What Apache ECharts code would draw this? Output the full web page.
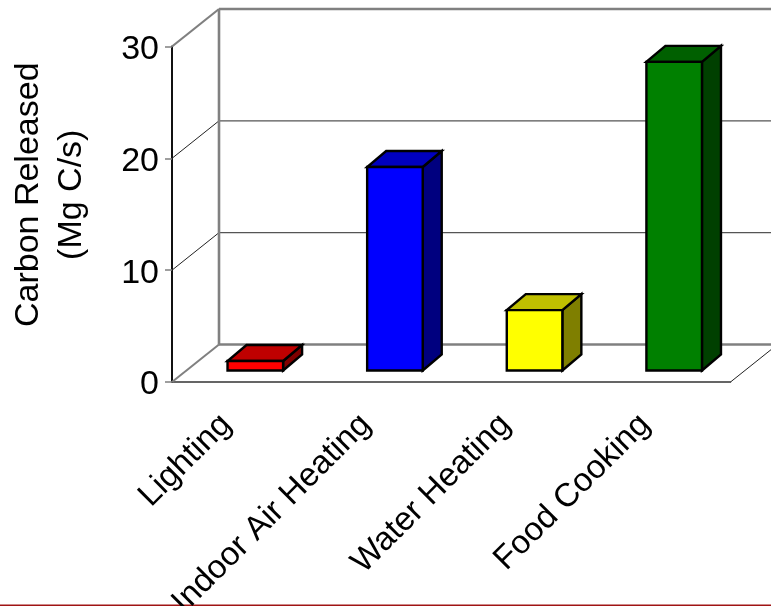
<!DOCTYPE html>
<html>
<head>
<meta charset="utf-8">
<style>html,body{margin:0;padding:0;background:#fff}#chart{width:771px;height:606px}</style>
<script src="https://cdn.jsdelivr.net/npm/echarts@6/dist/echarts.min.js"></script>
</head>
<body>
<div id="chart"></div>
<script>
// Carbon released per household energy use
const categories = ['Lighting', 'Indoor Air Heating', 'Water Heating', 'Food Cooking'];
const carbonReleased = [0.85, 18.2, 5.4, 27.6];
const yTicks = [0, 10, 20, 30];
const faceColors = ['#ff0000', '#0000ff', '#ffff00', '#008000'];
const topColors = ['#bf0000', '#0000bf', '#bfbf00', '#006000'];
const sideColors = ['#7f0000', '#00007f', '#7f7f00', '#004000'];

const FONT = '"Liberation Sans", Arial, sans-serif';
const WALL = [47, -37.5];      // depth of the chart box
const BAR_SHIFT = [13.5, -11.5]; // bar base sits part way into the box
const BAR_DEPTH = [19, -16];
const BAR_RATIO = 0.398;

function seg(p, q, stroke, width) {
  return { type: 'line', shape: { x1: p[0], y1: p[1], x2: q[0], y2: q[1] },
           style: { stroke, lineWidth: width }, silent: true };
}
function poly(points, fill) {
  return { type: 'polygon', shape: { points },
           style: { fill, stroke: '#000', lineWidth: 2.4, lineJoin: 'miter' }, silent: true };
}

// Back wall, side wall, floor and gridlines of the box
function renderFrame(params, api) {
  const v = api.value(0);
  const front = api.coord([0, v]);
  const x0 = params.coordSys.x;
  const x1 = x0 + params.coordSys.width;
  const y = front[1];
  const back = [x0 + WALL[0], y + WALL[1]];
  const right = [x1 + WALL[0], y + WALL[1]];
  const children = [];
  if (v === 0) {
    children.push(seg([x0, y], back, '#808080', 2));
    children.push(seg(back, right, '#808080', 2.6));
    children.push(seg([x1, y], right, '#222', 1));
  } else if (v === 30) {
    children.push(seg([x0, y], back, '#808080', 2.2));
    children.push(seg(back, right, '#808080', 2.6));
    children.push(seg(back, [back[0], back[1] + (api.coord([0, 0])[1] - y)], '#808080', 2.6));
  } else {
    children.push(seg([x0, y], back, '#222', 1));
    children.push(seg(back, right, '#555', 1.2));
  }
  return { type: 'group', children };
}

// One box per category: front, top and side faces
function renderBar(params, api) {
  const i = api.value(0);
  const base = api.coord([i, 0]);
  const top = api.coord([i, api.value(1)]);
  const w = api.size([1, 0])[0] * BAR_RATIO;
  const l = base[0] + BAR_SHIFT[0] - w / 2;
  const r = l + w;
  const b = base[1] + BAR_SHIFT[1];
  const t = top[1] + BAR_SHIFT[1];
  const dx = BAR_DEPTH[0], dy = BAR_DEPTH[1];
  return {
    type: 'group',
    children: [
      poly([[r, b], [r + dx, b + dy], [r + dx, t + dy], [r, t]], sideColors[i]),
      poly([[l, t], [r, t], [r + dx, t + dy], [l + dx, t + dy]], topColors[i]),
      poly([[l, b], [r, b], [r, t], [l, t]], faceColors[i])
    ]
  };
}

const chart = echarts.init(document.getElementById('chart'), null, { renderer: 'canvas' });
chart.setOption({
  animation: false,
  backgroundColor: '#fff',
  grid: { left: 172, right: 40.5, top: 46.5, bottom: 224, containLabel: false, outerBoundsMode: 'none' },
  xAxis: {
    type: 'category',
    data: categories,
    axisLine: { lineStyle: { color: '#333', width: 1.5 } },
    axisTick: { inside: true, length: 7, lineStyle: { color: '#333', width: 1 } },
    axisLabel: { rotate: 45, interval: 0, fontFamily: FONT, fontSize: 33, color: '#000', margin: 22,
                 padding: [0, 22, 0, 0] }
  },
  yAxis: {
    type: 'value',
    min: 0, max: 30, interval: 10,
    name: 'Carbon Released\n(Mg C/s)',
    nameLocation: 'middle',
    nameRotate: 90,
    nameGap: 79,
    nameTextStyle: { fontFamily: FONT, fontSize: 34, color: '#000', lineHeight: 43, padding: [0, 0, 0, 39] },
    axisLine: { show: true, lineStyle: { color: '#111', width: 2 } },
    axisTick: { show: true, length: 7, lineStyle: { color: '#808080', width: 1.5 } },
    axisLabel: { fontFamily: FONT, fontSize: 34, color: '#000', margin: 13, verticalAlign: 'top', lineHeight: 6 },
    splitLine: { show: false }
  },
  series: [
    { type: 'custom', coordinateSystem: 'cartesian2d', renderItem: renderFrame, clip: false,
      encode: { x: 1, y: 0 }, data: yTicks.map(v => [v, 0]), z: 1, silent: true },
    { type: 'custom', coordinateSystem: 'cartesian2d', renderItem: renderBar, clip: false,
      encode: { x: 0, y: 1 }, data: carbonReleased.map((v, i) => [i, v]), z: 3, silent: true }
  ],
  graphic: [{
    type: 'rect', left: 0, top: 604.5,
    shape: { width: 771, height: 1.5 }, style: { fill: '#a01414' }, silent: true
  }]
});
</script>
</body>
</html>
